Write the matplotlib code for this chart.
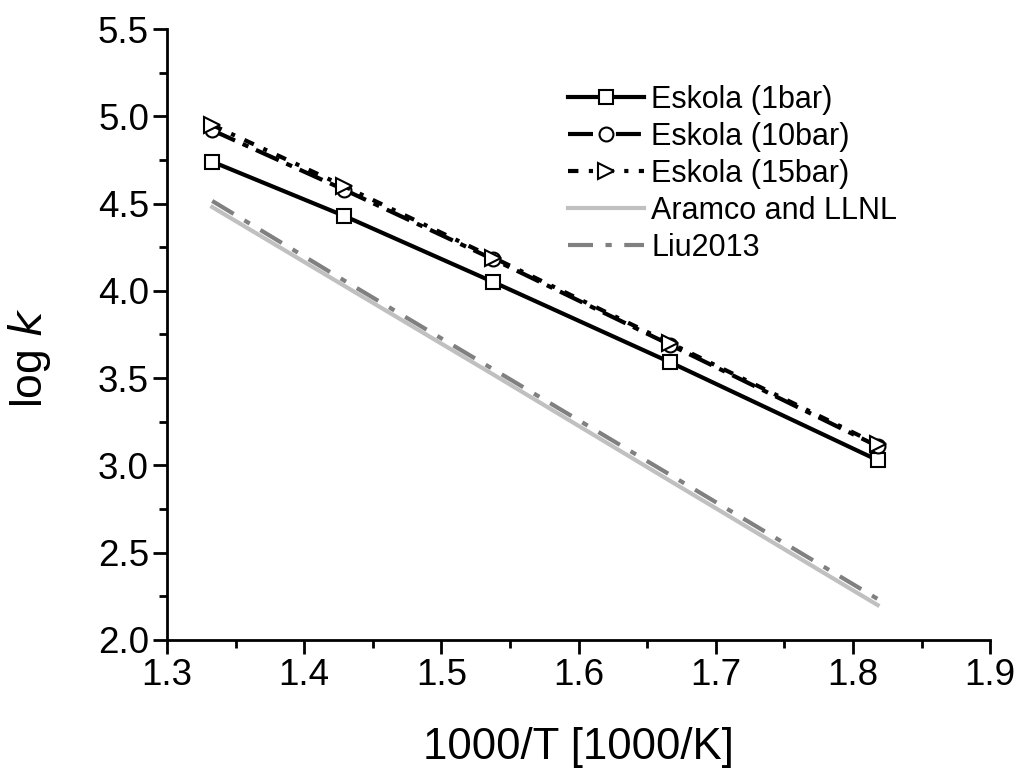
import matplotlib
matplotlib.use('Agg')
import matplotlib.pyplot as plt
from matplotlib.ticker import MultipleLocator

plt.rcParams['font.family'] = ['Liberation Sans', 'DejaVu Sans']

# ── data ──
inv_T = [1.333, 1.429, 1.538, 1.667, 1.818]
eskola_1bar = [4.74, 4.43, 4.05, 3.59, 3.03]
eskola_10bar = [4.92, 4.58, 4.18, 3.69, 3.11]
eskola_15bar = [4.95, 4.60, 4.19, 3.70, 3.12]
aramco = [4.48, 4.03, 3.52, 2.91, 2.20]
liu2013 = [4.515, 4.06, 3.55, 2.945, 2.235]

fig = plt.figure(figsize=(10.2, 7.76), dpi=100)
ax = fig.add_axes([0.1637, 0.1753, 0.807, 0.7873])

ax.plot(inv_T, eskola_1bar, color='black', lw=3, marker='s', ms=10,
        mfc='white', mec='black', mew=1.5, label='Eskola (1bar)')
ax.plot(inv_T, eskola_10bar, color='black', lw=3, ls=(0, (6, 2, 1.5, 2)), marker='o', ms=10,
        mfc='white', mec='black', mew=1.5, label='Eskola (10bar)')
ax.plot(inv_T, eskola_15bar, color='black', lw=3, ls=(0, (2.5, 2.5, 1, 2.5)), marker='>', ms=12,
        mfc='white', mec='black', mew=1.5, label='Eskola (15bar)')
ax.plot(inv_T, aramco, color='#c0c0c0', lw=3, label='Aramco and LLNL')
ax.plot(inv_T, liu2013, color='#808080', lw=3, ls=(0, (6, 3, 1.5, 3)), label='Liu2013')

ax.set_xlim(1.3, 1.9)
ax.set_ylim(2.0, 5.5)
ax.xaxis.set_major_locator(MultipleLocator(0.1))
ax.xaxis.set_minor_locator(MultipleLocator(0.05))
ax.yaxis.set_major_locator(MultipleLocator(0.5))
ax.yaxis.set_minor_locator(MultipleLocator(0.25))
ax.xaxis.set_major_formatter(plt.FormatStrFormatter('%.1f'))
ax.yaxis.set_major_formatter(plt.FormatStrFormatter('%.1f'))

for s in ('top', 'right'):
    ax.spines[s].set_visible(False)
for s in ('left', 'bottom'):
    ax.spines[s].set_linewidth(2)
ax.tick_params(which='major', direction='out', length=10, width=2, labelsize=26.5, pad=3)
ax.tick_params(which='minor', direction='out', length=6, width=2)

ax.set_xlabel('1000/T [1000/K]', fontsize=31.5)
ax.set_ylabel(r'log $\it{k}$', fontsize=32)
ax.xaxis.set_label_coords(0.5, -0.142)
ax.yaxis.set_label_coords(-0.139, 0.462)

ax.legend(loc='upper left', bbox_to_anchor=(568 / 1020, 1 - 85 / 776), bbox_transform=fig.transFigure,
          frameon=False, fontsize=22, numpoints=1, handlelength=2.5, handletextpad=0.23,
          labelspacing=0.23, borderaxespad=0, borderpad=0)

fig.savefig('out.png', dpi=100)
